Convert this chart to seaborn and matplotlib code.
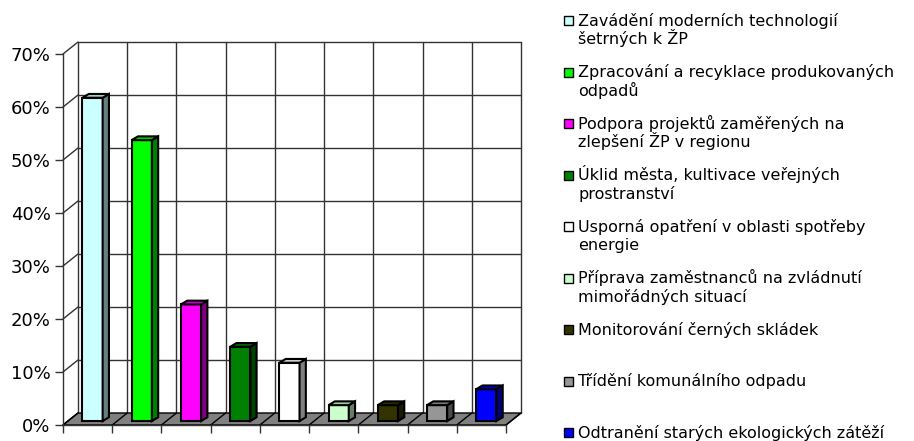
import numpy as np
import pandas as pd
import matplotlib
matplotlib.use("Agg")
import matplotlib.pyplot as plt
import matplotlib.transforms as mtransforms
from matplotlib.patches import Polygon, Rectangle
import matplotlib.colors as mcolors
import seaborn as sns

# data (share of answers)
categories = [
    "Zavádění moderních technologií\nšetrných k ŽP",
    "Zpracování a recyklace produkovaných\nodpadů",
    "Podpora projektů zaměřených na\nzlepšení ŽP v regionu",
    "Úklid města, kultivace veřejných\nprostranství",
    "Usporná opatření v oblasti spotřeby\nenergie",
    "Příprava zaměstnanců na zvládnutí\nmimořádných situací",
    "Monitorování černých skládek",
    "Třídění komunálního odpadu",
    "Odtranění starých ekologických zátěží",
]
values = [0.61, 0.53, 0.22, 0.14, 0.11, 0.03, 0.03, 0.03, 0.06]
bar_colors = ["#CCFFFF", "#00FF00", "#FF00FF", "#008000", "#FFFFFF",
              "#CCFFCC", "#333300", "#969696", "#0000FF"]
y_ticks = [0, 0.1, 0.2, 0.3, 0.4, 0.5, 0.6, 0.7]
y_labels = ["0%", "10%", "20%", "30%", "40%", "50%", "60%", "70%"]

sns.set_style("white")
plt.rcParams["font.family"] = ["DejaVu Sans"]

W, H, DPI = 914, 441, 100
fig = plt.figure(figsize=(W / DPI, H / DPI), dpi=DPI)
ax = fig.add_axes([63 / W, 16 / H, 443 / W, 371 / H])
ax.patch.set_visible(False)

df = pd.DataFrame({"opatření": categories, "podíl": values})
sns.barplot(data=df, x="opatření", y="podíl", hue="opatření",
            palette=bar_colors, legend=False, width=0.41, saturation=1,
            edgecolor="black", linewidth=1.5, ax=ax, zorder=3)

n = len(categories)
ax.set_xlim(-0.5, n - 0.5)
ax.set_ylim(0, 0.7)
ax.set_xlabel("")
ax.set_ylabel("")
bounds = np.arange(-0.5, n, 1.0)
ax.set_xticks(bounds, [""] * len(bounds))
ax.set_yticks(y_ticks, y_labels)
ax.tick_params(axis="both", direction="out", length=6, width=1,
               color="#333333", left=True, bottom=True)
ax.tick_params(axis="y", labelsize=13, labelcolor="black", pad=3)
for side in ["top", "right"]:
    ax.spines[side].set_visible(False)
for side in ["left", "bottom"]:
    ax.spines[side].set_color("#333333")
    ax.spines[side].set_linewidth(1)

# pseudo 3D: depth of the floor in pixels
DEPTH = np.array([15.0, 12.0])
ident = mtransforms.IdentityTransform()


def px(x, y, d=0.0, k=1.0):
    # k squeezes the vertical part of the depth (flatter bar tops)
    return ax.transData.transform((x, y)) + d * DEPTH * np.array([1.0, k])


grid_kw = dict(color="#333333", lw=1, transform=ident, clip_on=False, zorder=1)

# back wall
for t in y_ticks[1:]:
    a, b = px(-0.5, t, 1), px(n - 0.5, t, 1)
    ax.plot([a[0], b[0]], [a[1], b[1]], **grid_kw)
for xb in bounds:
    a, b = px(xb, 0, 1), px(xb, 0.7, 1)
    ax.plot([a[0], b[0]], [a[1], b[1]], **grid_kw)
# left wall
for t in y_ticks:
    a, b = px(-0.5, t, 0), px(-0.5, t, 1)
    ax.plot([a[0], b[0]], [a[1], b[1]], **grid_kw)

# floor
floor = [px(-0.5, 0, 0), px(n - 0.5, 0, 0), px(n - 0.5, 0, 1), px(-0.5, 0, 1)]
ax.add_patch(Polygon(floor, closed=True, facecolor="#808080", edgecolor="black",
                     lw=1, transform=ident, clip_on=False, zorder=1.5))
for xb in bounds:
    a, b = px(xb, 0, 0), px(xb, 0, 1)
    ax.plot([a[0], b[0]], [a[1], b[1]], color="black", lw=1, transform=ident,
            clip_on=False, zorder=1.6)

# bars: move front faces into the floor depth and add side and top faces
f0, f1 = 0.33, 0.75
shift = mtransforms.ScaledTranslation(*(f0 * DEPTH / DPI), fig.dpi_scale_trans)
bars = [p for p in ax.patches if isinstance(p, Rectangle)][:n]
for bar, col in zip(bars, bar_colors):
    x0, w, h = bar.get_x(), bar.get_width(), bar.get_height()
    bar.set_transform(ax.transData + shift)
    bar.set_clip_on(False)
    rgb = np.array(mcolors.to_rgb(col))
    a0 = px(x0 + w, 0, f0)
    b0 = px(x0 + w, h, f0)
    d = (f1 - f0) * DEPTH * np.array([1.0, 0.75])
    side = [a0, a0 + d, b0 + d, b0]
    c0 = px(x0, h, f0)
    top = [c0, b0, b0 + d, c0 + d]
    ax.add_patch(Polygon(side, closed=True, facecolor=rgb * 0.5, edgecolor="black",
                         lw=1.5, transform=ident, clip_on=False, zorder=3))
    ax.add_patch(Polygon(top, closed=True, facecolor=rgb * 0.8, edgecolor="black",
                         lw=1.5, transform=ident, clip_on=False, zorder=3))

# legend on the right, one line at a time
for i, (label, col) in enumerate(zip(categories, bar_colors)):
    base = 25.7 + 51.5 * i
    fig.patches.append(Rectangle((564 / W, 1 - (base - 0.5) / H), 9 / W, 9 / H,
                                 transform=fig.transFigure, facecolor=col,
                                 edgecolor="black", lw=1))
    for j, line in enumerate(label.split("\n")):
        fig.text(578 / W, 1 - (base + 18.7 * j) / H, line, fontsize=11.5,
                 va="baseline", ha="left", color="black")

fig.savefig("out.png", dpi=DPI)
